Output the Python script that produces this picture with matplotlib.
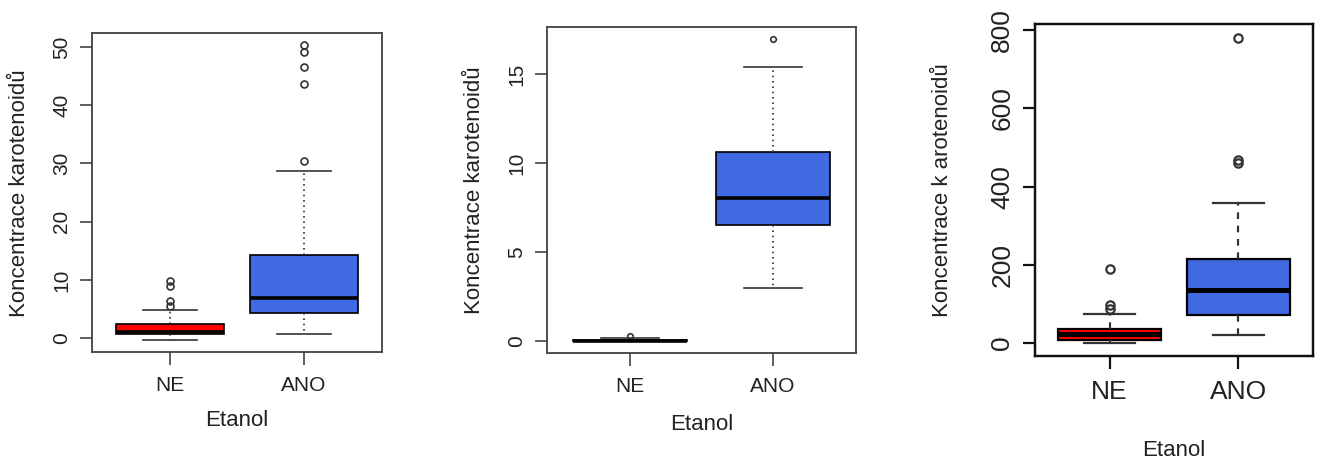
import matplotlib
matplotlib.use("Agg")
import matplotlib.pyplot as plt

plt.rcParams["font.family"] = ["Liberation Sans", "DejaVu Sans"]

W, H = 1321, 461

skupiny = ["NE", "ANO"]
barvy = ["#FF0000", "#4169E1"]

# souhrnné statistiky (dolní vous, Q1, medián, Q3, horní vous) a odlehlé body
p1_whislo = [-0.4, 0.7]
p1_q1 = [0.7, 4.3]
p1_med = [1.0, 6.8]
p1_q3 = [2.4, 14.3]
p1_whishi = [4.9, 28.7]
p1_fliers = [[5.5, 6.4, 9.0, 9.8], [30.4, 43.7, 46.6, 49.2, 50.3]]
p1_yticks = [0, 10, 20, 30, 40, 50]

p2_whislo = [0.0, 2.97]
p2_q1 = [0.0, 6.54]
p2_med = [0.0, 8.03]
p2_q3 = [0.04, 10.6]
p2_whishi = [0.15, 15.4]
p2_fliers = [[0.25], [16.96]]
p2_yticks = [0, 5, 10, 15]

p3_whislo = [0.0, 20.0]
p3_q1 = [9.0, 73.0]
p3_med = [24.0, 135.0]
p3_q3 = [37.0, 216.0]
p3_whishi = [74.0, 357.0]
p3_fliers = [[88.0, 97.0, 190.0], [460.0, 468.0, 780.0]]
p3_yticks = [0, 200, 400, 600, 800]

popisek_y = ["Koncentrace karotenoidů", "Koncentrace karotenoidů", "Koncentrace k arotenoidů"]
popisek_x = "Etanol"


def px(x0, y0, x1, y1):
    return [x0 / W, 1 - y1 / H, (x1 - x0) / W, (y1 - y0) / H]


def statistiky(whislo, q1, med, q3, whishi, fliers):
    return [dict(whislo=whislo[i], q1=q1[i], med=med[i], q3=q3[i],
                 whishi=whishi[i], fliers=fliers[i], label=skupiny[i])
            for i in range(len(skupiny))]


def boxplot(ax, stats, ylim, yticks, lw, ramec, ls_vous, tick_fs, ms, med_lw):
    res = ax.bxp(stats, positions=[1, 2], widths=0.8, patch_artist=True,
                 capwidths=0.4,
                 boxprops=dict(edgecolor="black", linewidth=lw),
                 medianprops=dict(color="black", linewidth=med_lw),
                 whiskerprops=dict(color="#333333", linewidth=lw, linestyle=ls_vous),
                 capprops=dict(color="#333333", linewidth=lw),
                 flierprops=dict(marker="o", markerfacecolor="none",
                                 markeredgecolor="#333333", markersize=ms,
                                 markeredgewidth=lw))
    for patch, c in zip(res["boxes"], barvy):
        patch.set_facecolor(c)
    ax.set_xlim(0.42, 2.58)
    ax.set_ylim(*ylim)
    ax.set_xticks([1, 2])
    ax.set_xticklabels(skupiny, fontsize=tick_fs, color="#222222")
    ax.set_yticks(yticks)
    ax.set_yticklabels([str(t) for t in yticks], rotation=90, va="center",
                       fontsize=tick_fs, color="#222222")
    ax.tick_params(direction="out", length=9, width=lw, color=ramec)
    ax.tick_params(axis="x", pad=8)
    ax.tick_params(axis="y", pad=6)
    for s in ax.spines.values():
        s.set_color(ramec)
        s.set_linewidth(lw * 1.1)


fig = plt.figure(figsize=(W / 100, H / 100), dpi=100)

ax1 = fig.add_axes(px(92, 33, 382, 352))
boxplot(ax1, statistiky(p1_whislo, p1_q1, p1_med, p1_q3, p1_whishi, p1_fliers),
        (-2.4, 52.4), p1_yticks, 1.2, "#444444", (0, (1, 2.2)), 15, 5, 2.6)

ax2 = fig.add_axes(px(547, 27, 856, 353))
boxplot(ax2, statistiky(p2_whislo, p2_q1, p2_med, p2_q3, p2_whishi, p2_fliers),
        (-0.68, 17.64), p2_yticks, 1.2, "#444444", (0, (1, 2.2)), 15, 4, 2.6)

ax3 = fig.add_axes(px(1035, 24, 1313, 356))
boxplot(ax3, statistiky(p3_whislo, p3_q1, p3_med, p3_q3, p3_whishi, p3_fliers),
        (-33, 816), p3_yticks, 1.6, "#111111", (0, (3, 3)), 19, 6, 3.6)

# popisky os
for ax, txt, (xl, yl, xx, yx) in zip(
        [ax1, ax2, ax3], popisek_y,
        [(20, 193, 237, 420), (475, 190, 702, 424), (943, 190, 1174, 450)]):
    fig.text(xl / W, 1 - yl / H, txt, rotation=90, ha="center", va="center",
             fontsize=16, color="#222222")
    fig.text(xx / W, 1 - yx / H, popisek_x, ha="center", va="center",
             fontsize=16, color="#222222")

fig.savefig("out.png", dpi=100, facecolor="white")
